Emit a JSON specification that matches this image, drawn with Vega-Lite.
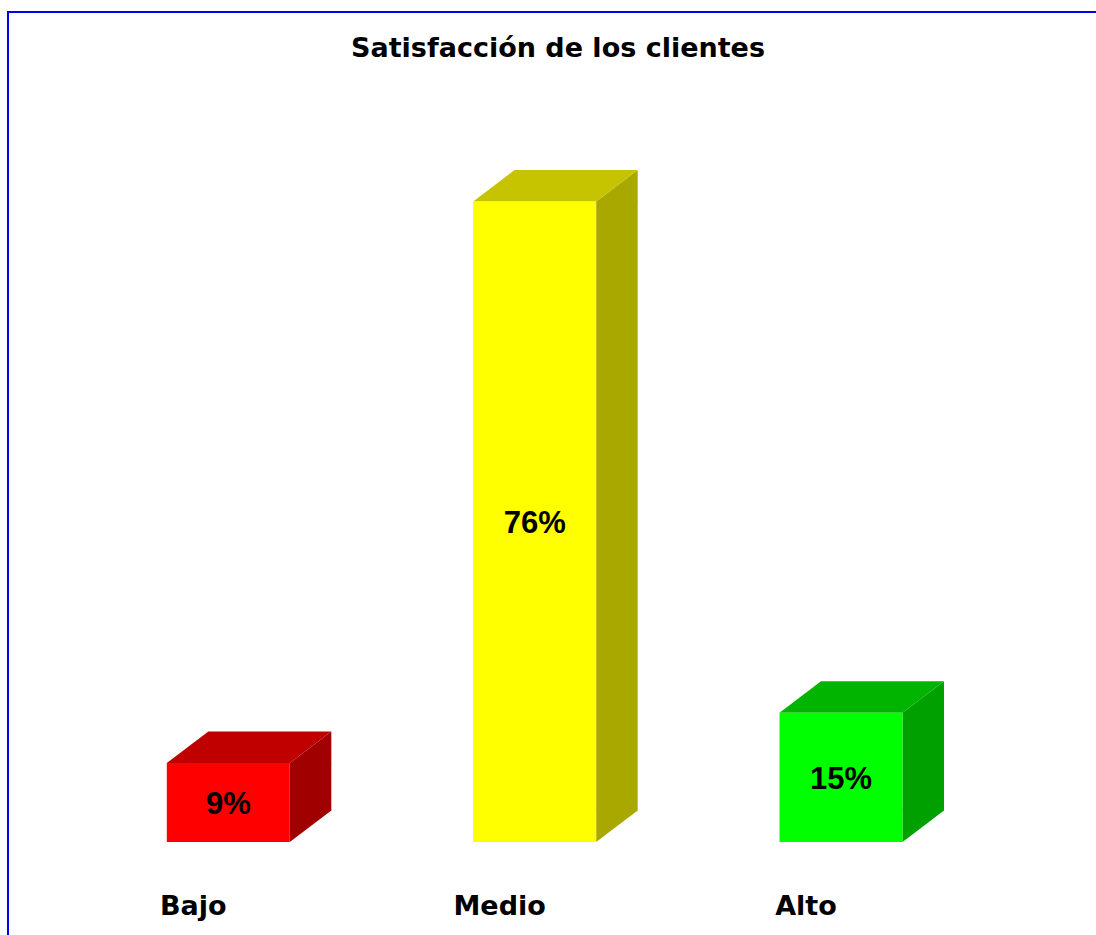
{
  "$schema": "https://vega.github.io/schema/vega-lite/v6.json",
  "autosize": "none",
  "width": 1100,
  "height": 940,
  "padding": {"left": 8, "top": 12, "right": 0, "bottom": 0},
  "background": "white",
  "title": {"text": "Satisfacción de los clientes", "anchor": "middle", "offset": -45, "dy": 27, "baseline": "alphabetic", "font": "DejaVu Sans", "fontSize": 27, "fontWeight": "bold", "color": "black"},
  "config": {"view": {"stroke": "#0000ee", "strokeWidth": 2}},
  "data": {"values": [
    {"nivel": "Bajo", "valor": 0.09},
    {"nivel": "Medio", "valor": 0.76},
    {"nivel": "Alto", "valor": 0.15}
  ]},
  "encoding": {
    "x": {"field": "nivel", "type": "nominal", "sort": null,
      "scale": {"paddingInner": 0, "paddingOuter": 0.2953, "align": 0.371},
      "axis": {"title": null, "domain": false, "ticks": false, "grid": false, "labelAngle": 0, "labelFont": "DejaVu Sans", "labelFontSize": 27, "labelFontWeight": "bold", "labelColor": "black", "labelBaseline": "alphabetic", "labelPadding": 0, "offset": -38, "labelOffset": -35}}
  },
  "layer": [
    {
      "mark": {"type": "bar", "width": 41.5, "xOffset": 82.25, "y2Offset": -27.94},
      "encoding": {
        "y": {"field": "valor", "type": "quantitative", "scale": {"domain": [-0.13548, 0.98597], "nice": false, "zero": false}, "axis": null},
        "y2": {"datum": 0},
        "fill": {"field": "nivel", "type": "nominal", "scale": {"domain": ["Bajo", "Medio", "Alto"], "range": ["#a00000", "#a8a800", "#00a000"]}, "legend": null}
      }
    },
    {
      "mark": {"type": "point", "shape": "M 61.5 -29 L 61.5 3.56 L 103 -27.94 L 103 -29 Z", "size": 4, "filled": true, "opacity": 1, "strokeWidth": 0},
      "encoding": {
        "y": {"datum": 0, "type": "quantitative", "scale": {"domain": [-0.13548, 0.98597], "nice": false, "zero": false}, "axis": null},
        "fill": {"field": "nivel", "type": "nominal", "scale": {"domain": ["Bajo", "Medio", "Alto"], "range": ["#a00000", "#a8a800", "#00a000"]}, "legend": null}
      }
    },
    {
      "mark": {"type": "point", "shape": "M 61.5 1 L 61.5 0 L 103 -31.5 L 103 1 Z", "size": 4, "filled": true, "opacity": 1, "strokeWidth": 0},
      "encoding": {
        "y": {"field": "valor", "type": "quantitative", "scale": {"domain": [-0.13548, 0.98597], "nice": false, "zero": false}, "axis": null},
        "fill": {"field": "nivel", "type": "nominal", "scale": {"domain": ["Bajo", "Medio", "Alto"], "range": ["#a00000", "#a8a800", "#00a000"]}, "legend": null}
      }
    },
    {
      "mark": {"type": "point", "shape": "M -61.5 0 L 61.5 0 L 103 -31.5 L -20 -31.5 Z", "size": 4, "filled": true, "opacity": 1, "strokeWidth": 0},
      "encoding": {
        "y": {"field": "valor", "type": "quantitative", "scale": {"domain": [-0.13548, 0.98597], "nice": false, "zero": false}, "axis": null},
        "fill": {"field": "nivel", "type": "nominal", "scale": {"domain": ["Bajo", "Medio", "Alto"], "range": ["#c00000", "#c6c400", "#00b400"]}, "legend": null}
      }
    },
    {
      "mark": {"type": "bar", "width": 123, "y2Offset": 3.56},
      "encoding": {
        "y": {"field": "valor", "type": "quantitative", "scale": {"domain": [-0.13548, 0.98597], "nice": false, "zero": false}, "axis": null},
        "y2": {"datum": 0},
        "fill": {"field": "nivel", "type": "nominal", "scale": {"domain": ["Bajo", "Medio", "Alto"], "range": ["#ff0000", "#ffff00", "#00ff00"]}, "legend": null}
      }
    },
    {
      "mark": {"type": "text", "font": "Liberation Sans", "fontSize": 31, "fontWeight": "bold", "baseline": "middle", "dy": 4.5, "color": "black"},
      "encoding": {
        "y": {"field": "valor", "type": "quantitative", "scale": {"domain": [-0.27096, 1.97194], "nice": false, "zero": false}, "axis": null},
        "text": {"field": "valor", "type": "quantitative", "format": ".0%"}
      }
    }
  ],
  "resolve": {"scale": {"y": "independent", "fill": "independent"}}
}
